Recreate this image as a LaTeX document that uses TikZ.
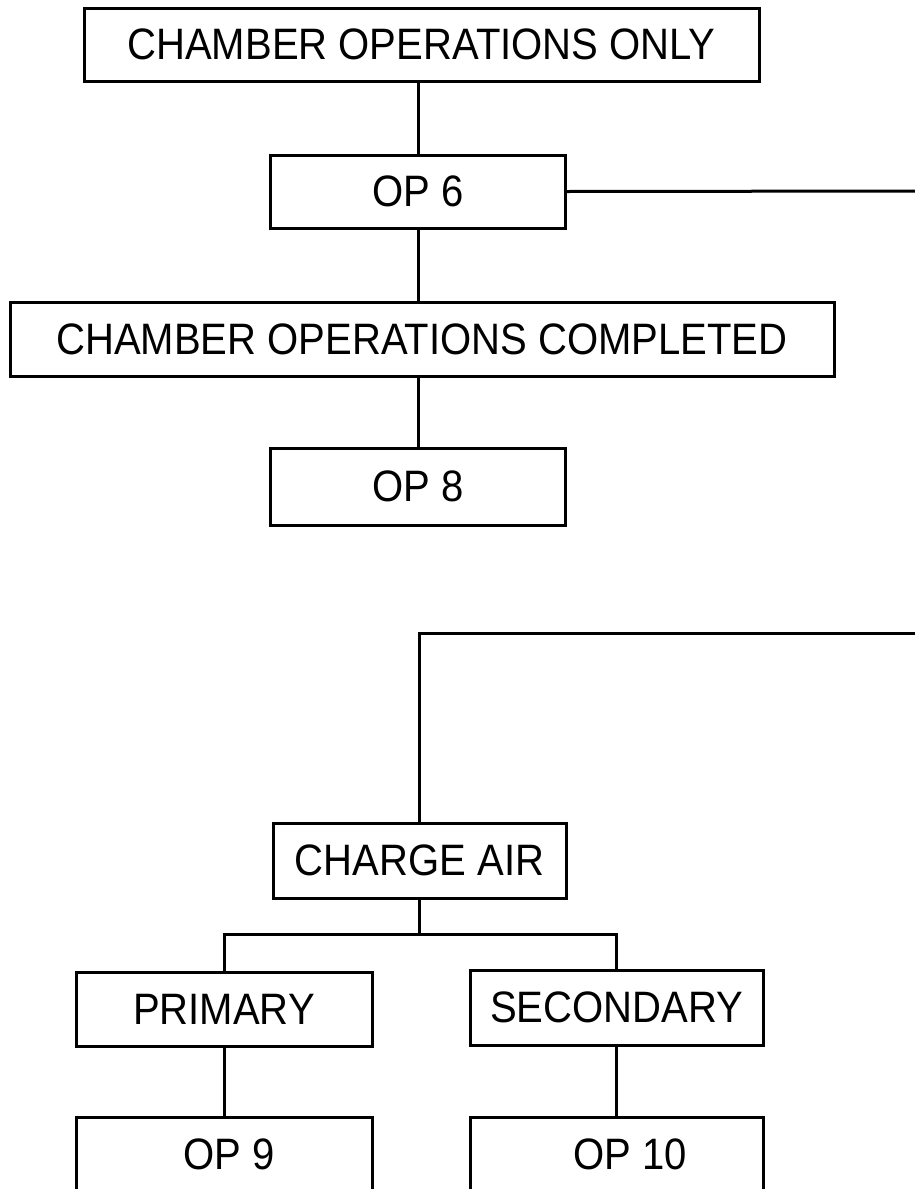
\documentclass[tikz,border=0pt]{standalone}
\usepackage{fontspec}
\setmainfont{Liberation Sans}[FakeStretch=0.91]
\begin{document}
\begin{tikzpicture}[x=1pt,y=-1pt,
  box/.style={draw=black,line width=3pt,fill=white,inner sep=0pt,
    font=\fontsize{44}{50}\selectfont,text=black},
  conn/.style={draw=black,line width=3pt}]
\useasboundingbox (0,0) rectangle (915,1189);
\clip (0,0) rectangle (915,1189);
\node[box,minimum width=675pt,minimum height=73pt] (A) at (421.5,44.5) {CHAMBER OPERATIONS ONLY};
\node[box,minimum width=295pt,minimum height=73pt] (B) at (418,191.5) {OP 6};
\node[box,minimum width=824pt,minimum height=74pt] (C) at (422,339) {CHAMBER OPERATIONS COMPLETED};
\node[box,minimum width=295pt,minimum height=77pt] (D) at (418,486.5) {OP 8};
\node[box,minimum width=293pt,minimum height=75pt] (E) at (419.5,860.5) {CHARGE AIR};
\node[box,minimum width=296pt,minimum height=74pt] (P) at (224,1009) {PRIMARY};
\node[box,minimum width=293pt,minimum height=75pt] (S) at (616.5,1007.5) {SECONDARY};
\node[box,minimum width=296pt,minimum height=75pt] (P9) at (224,1154.5) {\hspace{10pt}OP 9};
\node[box,minimum width=293pt,minimum height=75pt] (S10) at (616.5,1154.5) {\hspace{28pt}OP 10};
\coordinate (R1) at (930,191);
\coordinate (R2) at (930,633);
\coordinate (J) at (419.5,934);
\draw[conn] (B.north) -- (B.north |- A.south);
\draw[conn] (B.south) -- (B.south |- C.north);
\draw[conn] (D.north) -- (D.north |- C.south);
\draw[conn] (B.east) -- (R1);
\draw[conn,line cap=rect] (R2) -| (E.north);
\draw[conn] (E.south) -- (J);
\draw[conn,line cap=rect] (P.north) |- (J) -| (S.north);
\draw[conn] (P.south) -- (P9.north);
\draw[conn] (S.south) -- (S10.north);
\end{tikzpicture}
\end{document}
